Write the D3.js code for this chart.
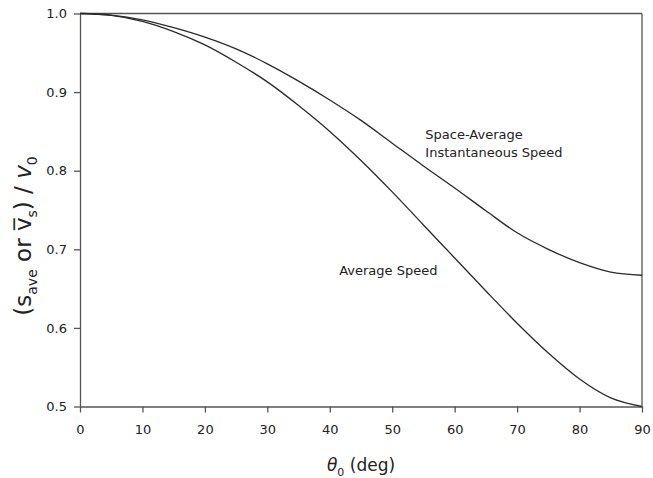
<!DOCTYPE html>
<html>
<head>
<meta charset="utf-8">
<script src="https://cdn.jsdelivr.net/npm/d3@7"></script>
<style>
  body { margin: 0; background: #fff; }
  text { font-family: "DejaVu Sans", sans-serif; fill: #222; }
</style>
</head>
<body>
<svg id="chart" width="653" height="478"></svg>
<script>
// launch angle (deg)
var angles = [0, 5, 10, 15, 20, 25, 30, 35, 40, 45, 50, 55, 60, 65, 70, 75, 80, 85, 90];
// s_ave / v0
var averageSpeed = [1.000, 0.9975, 0.990, 0.977, 0.960, 0.938, 0.913, 0.883, 0.850, 0.813, 0.773, 0.731, 0.689, 0.647, 0.606, 0.568, 0.535, 0.511, 0.500];
// space-average instantaneous speed / v0
var spaceAvgSpeed = [1.000, 0.998, 0.992, 0.982, 0.970, 0.955, 0.936, 0.914, 0.890, 0.864, 0.835, 0.806, 0.778, 0.749, 0.721, 0.700, 0.683, 0.671, 0.667];
var xTicks = [0, 10, 20, 30, 40, 50, 60, 70, 80, 90];
var yTicks = [0.5, 0.6, 0.7, 0.8, 0.9, 1.0];

var svg = d3.select("#chart"),
    margin = {top: 13.5, right: 11, bottom: 71.5, left: 80},
    width = +svg.attr("width") - margin.left - margin.right,
    height = +svg.attr("height") - margin.top - margin.bottom;

var g = svg.append("g").attr("transform", "translate(" + margin.left + "," + margin.top + ")");

var x = d3.scaleLinear().domain([0, 90]).range([0, width]);
var y = d3.scaleLinear().domain([0.5, 1.0]).range([height, 0]);

// axes
var xAxis = g.append("g")
    .attr("transform", "translate(0," + height + ")")
    .call(d3.axisBottom(x).tickValues(xTicks).tickSize(6).tickSizeOuter(0).tickPadding(12));
var yAxis = g.append("g")
    .call(d3.axisLeft(y).tickValues(yTicks).tickFormat(d3.format(".1f")).tickSize(6).tickSizeOuter(0).tickPadding(7));

[xAxis, yAxis].forEach(function(a) {
  a.selectAll("path, line").attr("stroke", "#555").attr("stroke-width", 1.3);
  a.selectAll("text").attr("font-size", 13).attr("fill", "#222")
    .attr("font-family", "DejaVu Sans, sans-serif");
});

// top and right frame
g.append("line").attr("x1", 0).attr("x2", width).attr("y1", 0).attr("y2", 0)
  .attr("stroke", "#555").attr("stroke-width", 1.3);
g.append("line").attr("x1", width).attr("x2", width).attr("y1", 0).attr("y2", height)
  .attr("stroke", "#555").attr("stroke-width", 1.3);

// curves
var line = d3.line()
    .x(function(d) { return x(d[0]); })
    .y(function(d) { return y(d[1]); })
    .curve(d3.curveMonotoneX);

[averageSpeed, spaceAvgSpeed].forEach(function(vals) {
  g.append("path")
    .datum(angles.map(function(a, i) { return [a, vals[i]]; }))
    .attr("fill", "none")
    .attr("stroke", "#2a2a2a")
    .attr("stroke-width", 1.3)
    .attr("d", line);
});

// curve labels
g.append("text").attr("x", x(55.3)).attr("y", y(0.84)).attr("font-size", 13).text("Space-Average");
g.append("text").attr("x", x(55.3)).attr("y", y(0.818)).attr("font-size", 13).text("Instantaneous Speed");
g.append("text").attr("x", x(41.5)).attr("y", y(0.667)).attr("font-size", 13).text("Average Speed");

// x title
var xt = svg.append("text")
    .attr("x", margin.left + width / 2)
    .attr("y", 471)
    .attr("text-anchor", "middle")
    .attr("font-size", 17);
xt.append("tspan").attr("font-style", "italic").text("\u03b8");
xt.append("tspan").attr("font-size", 11).attr("dy", 5).text("0");
xt.append("tspan").attr("dy", -5).text(" (deg)");

// y title
var yt = svg.append("text")
    .attr("transform", "translate(31,236) rotate(-90)")
    .attr("text-anchor", "middle")
    .attr("font-size", 23);
yt.append("tspan").text("(s");
yt.append("tspan").attr("font-size", 14).attr("dy", 6).text("ave");
yt.append("tspan").attr("dy", -6).text(" or v\u0305");
yt.append("tspan").attr("font-size", 14).attr("dy", 6).text("s");
yt.append("tspan").attr("dy", -6).text(") / ");
yt.append("tspan").attr("font-style", "italic").text("v");
yt.append("tspan").attr("font-size", 14).attr("dy", 6).text("0");
</script>
</body>
</html>
